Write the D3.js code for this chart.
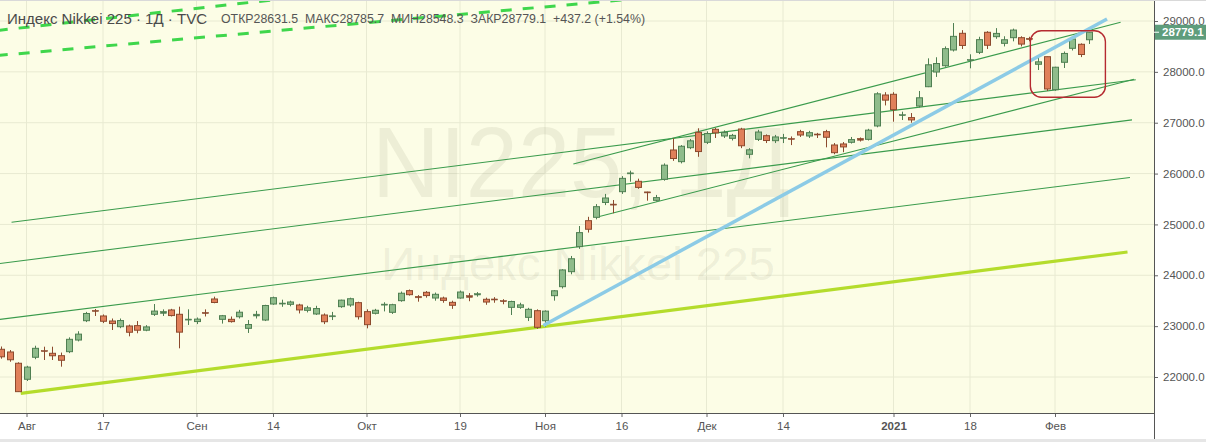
<!DOCTYPE html>
<html><head><meta charset="utf-8">
<script src="https://cdn.jsdelivr.net/npm/d3@7/dist/d3.min.js"></script>
<style>html,body{margin:0;padding:0;background:#fff;overflow:hidden}svg{display:block}</style>
</head><body>
<svg id="c" width="1206" height="442"></svg>
<script>
// ---- DATA (bar index 0 = 3 Aug 2020; first bar = 29 Jul 2020) ----
const firstIndex = -3;
const opens  = [22545,22492,22270, 21955,22388,22520,22466,22419,22498,22727,23107,23310,23200,23101,22989,23003,23010,22920,23233,23252,23318,23233,23130,
 23090,23270,23534,23134,23134,23185,22957,23200,23120,23435,23450,23429,23416,23311,23239,23219,23200,23383,23416,23462,
 23285,23252,23420,23272,23501,23698,23586,23665,23553,23553,23468,23553,23599,23613,23528,23534,23501,23370,23370,23173,23304,
 23107,23599,23776,24071,24563,25074,25140,25432,25400,25644,26010,25848,25640,25474,25887,26464,26234,26509,26811,
 26615,26870,26739,26693,26876,26379,26673,26745,26647,26700,26690,26824,26739,26778,26824,26562,26582,26615,26693,26673,26936,27545,
 27559,27150,27100,27328,27708,27997,28121,28430,28758,28230,28384,28778,28692,28561,28672,28672,28660,28149,28298,
 27650,28188,28463,28542,28631.5];
const highs  = [22600,22530,22290, 22220,22615,22596,22596,22480,22780,22900,23280,23338,23230,23150,23150,23030,23100,23020,23435,23330,23340,23383,23331,
 23170,23330,23580,23220,23190,23320,23120,23300,23420,23580,23520,23500,23440,23400,23400,23250,23280,23520,23560,23480,
 23331,23340,23470,23440,23680,23720,23610,23690,23660,23580,23500,23700,23650,23670,23560,23570,23530,23500,23460,23360,23330,
 23310,23710,24120,24380,24969,25150,25400,25600,25480,25950,26057,25900,25644,25580,26200,26693,26560,26680,26890,
 26830,26900,26850,26780,26900,26500,26860,26770,26760,26780,26730,26860,26840,26800,26860,26600,26620,26720,26710,26880,27600,27600,
 27600,27217,27190,27624,28266,28287,28500,28960,28820,28345,28690,28800,28860,28700,28850,28700,28690,28279,28300,
 28100,28400,28670,28560,28785.7];
const lows   = [22360,22300,21710, 21921,22350,22334,22334,22203,22470,22700,23080,23200,23060,22924,22960,22800,22860,22900,23200,23200,23190,22564,23023,
 23040,23190,23450,23050,23070,23150,22866,23150,23100,23420,23380,23390,23250,23270,23220,23040,23120,23360,23380,23130,
 22957,23230,23290,23240,23480,23600,23481,23560,23500,23460,23340,23540,23490,23580,23420,23460,23430,23219,23340,23100,22948,
 22990,23501,23740,24020,24520,24840,25100,25380,25220,25600,25840,25700,25467,25450,25860,26250,26200,26480,26330,
 26580,26700,26700,26650,26500,26300,26640,26600,26600,26600,26560,26720,26700,26700,26516,26380,26420,26590,26630,26650,26910,27340,
 27020,27053,27000,27300,27700,27900,28100,28400,28450,28070,28350,28450,28650,28500,28600,28500,28600,28036,27624,
 27629,28076,28420,28290,28548.3];
const closes = [22397,22339,21712, 22195,22564,22514,22418,22329,22741,22843,23249,23289,23096,23051,23110,22880,22920,22985,23296,23290,23208,22882,23139,
 23138,23247,23465,23205,23089,23274,23032,23235,23406,23559,23454,23475,23319,23360,23346,23087,23204,23511,23539,23185,
 23029,23312,23433,23422,23647,23619,23558,23601,23626,23507,23410,23671,23567,23639,23474,23516,23494,23485,23418,23331,22977,
 23295,23695,24105,24325,24839,24905,25349,25520,25385,25906,26014,25728,25634,25527,26165,26296,26537,26644,26433,
 26787,26800,26809,26751,26547,26467,26817,26650,26720,26710,26687,26758,26804,26763,26714,26411,26524,26668,26656,26854,27568,27444,
 27258,27158,27055,27490,28139,28164,28456,28698,28519,28242,28633,28523,28756,28631,28822,28546,28635,28197,27663,
 28091,28362,28646,28341,28779.1];

const xTickIdx    = [0, 9, 20, 29, 40, 51, 61, 70, 80, 89, 102, 111, 121];
const xTickLabels = ["Авг","17","Сен","14","Окт","19","Ноя","16","Дек","14","2021","18","Фев"];
const yTicks = [22000,23000,24000,25000,26000,27000,28000,29000];

// drawn trend lines: [[barIndex, price],[barIndex, price]]
const thinLines = [
  [[-1.76,25042],[130.5,27846]],
  [[-3.5,24225],[130.06,27055]],
  [[-3.5,23124],[129.82,25923]],
  [[64.34,26188],[128.72,28974]],
  [[67.05,25140],[130.29,27854]]
];
const supportLine = [[-0.68,21679],[129.53,24458]];
const blueLine    = [[60.8,23013],[127.12,29039]];
const dashedLines = [
  [[-3.5,28320],[80,29560]],
  [[-3.5,28812],[40,29620]]
];
const boxArea = {i0:118.1, i1:126.93, pTop:28809, pBot:27500};
const lastClose = 28779.1;
const headerTitle = "Индекс Nikkei 225 · 1Д · TVC";
const headerValues = "ОТКР28631.5  МАКС28785.7  МИН28548.3  ЗАКР28779.1  +437.2 (+1.54%)";

// ---- LAYOUT ----
const W = 1206, H = 442, plotR = 1154, plotB = 413;
const svg = d3.select("#c");
const x = d3.scaleLinear().domain([0,125]).range([26.5,1089]);
const y = d3.scaleLinear().domain([22000,29000]).range([377,21]);

svg.append("rect").attr("width",W).attr("height",H).attr("fill","#ffffff");
svg.append("rect").attr("x",0).attr("y",0).attr("width",plotR).attr("height",plotB).attr("fill","#fcfde6");
svg.append("defs").append("clipPath").attr("id","clip").append("rect").attr("x",0).attr("y",0).attr("width",plotR).attr("height",plotB);

const plot = svg.append("g").attr("clip-path","url(#clip)");
// grid
plot.selectAll(".hg").data(yTicks).join("line").attr("x1",0).attr("x2",plotR)
  .attr("y1",d=>y(d)).attr("y2",d=>y(d)).attr("stroke","#e8ead2").attr("stroke-width",1);
plot.selectAll(".vg").data(xTickIdx).join("line").attr("y1",0).attr("y2",plotB)
  .attr("x1",d=>x(d)).attr("x2",d=>x(d)).attr("stroke","#e8ead2").attr("stroke-width",1);

// watermark
plot.append("text").attr("x",372).attr("y",197).attr("textLength",418).attr("lengthAdjust","spacingAndGlyphs")
  .attr("font-family","Liberation Sans, Arial, sans-serif").attr("font-size",100)
  .attr("fill","rgba(120,120,95,0.11)").text("NI225, 1Д");
plot.append("text").attr("x",381).attr("y",280).attr("textLength",394).attr("lengthAdjust","spacingAndGlyphs")
  .attr("font-family","Liberation Sans, Arial, sans-serif").attr("font-size",46)
  .attr("fill","rgba(120,120,95,0.11)").text("Индекс Nikkei 225");

const line = d3.line().x(d=>x(d[0])).y(d=>y(d[1]));
// dashed lines
plot.selectAll(".dash").data(dashedLines).join("path").attr("d",line).attr("fill","none")
  .attr("stroke","#3fd64c").attr("stroke-width",3).attr("stroke-dasharray","11,11");
// thin lines
plot.selectAll(".thin").data(thinLines).join("path").attr("d",line).attr("fill","none")
  .attr("stroke","#3a9b4c").attr("stroke-width",1.1);
// support
plot.append("path").datum(supportLine).attr("d",line).attr("fill","none").attr("stroke","#b4dc2c").attr("stroke-width",3.2);

// candles
const bars = opens.map((o,k)=>({i:k+firstIndex,o,h:highs[k],l:lows[k],c:closes[k]}));
const bw = 6;
const cg = plot.append("g");
bars.forEach(b=>{
  const up = b.c >= b.o;
  const stroke = up ? "#4f7f52" : "#8c4a2e";
  const fill = up ? "#8fbc8b" : "#e0805a";
  const cx = Math.round(x(b.i)) + 0.5;
  cg.append("line").attr("x1",cx).attr("x2",cx).attr("y1",y(b.h)).attr("y2",y(b.l)).attr("stroke",stroke).attr("stroke-width",1);
  const top = y(Math.max(b.o,b.c)), bot = y(Math.min(b.o,b.c));
  const hh = Math.max(1, bot-top);
  cg.append("rect").attr("x",cx-bw/2).attr("y",top).attr("width",bw).attr("height",hh)
    .attr("fill",hh<=2?stroke:fill).attr("stroke",stroke).attr("stroke-width",hh<=2?0.6:1);
});

// blue line above candles
plot.append("path").datum(blueLine).attr("d",line).attr("fill","none").attr("stroke","#8ccbe6").attr("stroke-width",3.5);

// red box
plot.append("rect").attr("x",x(boxArea.i0)).attr("y",y(boxArea.pTop))
  .attr("width",x(boxArea.i1)-x(boxArea.i0)).attr("height",y(boxArea.pBot)-y(boxArea.pTop))
  .attr("rx",11).attr("ry",11).attr("fill","none").attr("stroke","#b52a30").attr("stroke-width",1.4);

// header
svg.append("text").attr("x",7).attr("y",24).attr("font-family","Liberation Sans, Arial, sans-serif")
  .attr("font-size",15).attr("fill","#4a4a4a").attr("textLength",200).attr("lengthAdjust","spacingAndGlyphs").text(headerTitle);
svg.append("text").attr("x",221).attr("y",23).attr("font-family","Liberation Sans, Arial, sans-serif")
  .attr("font-size",12.5).attr("fill","#555").attr("textLength",424).attr("lengthAdjust","spacingAndGlyphs")
  .attr("xml:space","preserve").text(headerValues);

// axes
const fnt = "Liberation Sans, Arial, sans-serif";
const xAxis = d3.axisBottom(x).tickValues(xTickIdx).tickFormat((d,k)=>xTickLabels[k]).tickSize(4).tickSizeOuter(0);
const gx = svg.append("g").attr("transform",`translate(0,${plotB})`).call(xAxis);
gx.select(".domain").remove();
gx.selectAll(".tick line").attr("stroke","#666");
gx.selectAll(".tick text").attr("font-family",fnt).attr("font-size",11.5).attr("fill","#555").attr("dy","0.85em")
  .attr("font-weight",(d,k)=>xTickLabels[k]==="2021"?"bold":"normal");
svg.append("line").attr("x1",0).attr("x2",plotR).attr("y1",plotB+0.5).attr("y2",plotB+0.5).attr("stroke","#555");

const yAxis = d3.axisRight(y).tickValues(yTicks).tickFormat(d3.format(".1f")).tickSize(4).tickSizeOuter(0);
const gy = svg.append("g").attr("transform",`translate(${plotR},0)`).call(yAxis);
gy.select(".domain").remove();
gy.selectAll(".tick line").attr("stroke","#666");
gy.selectAll(".tick text").attr("font-family",fnt).attr("font-size",11.5).attr("fill","#555").attr("x",9);
svg.append("line").attr("x1",plotR+0.5).attr("x2",plotR+0.5).attr("y1",0).attr("y2",H).attr("stroke","#555");

// last price label
const ly = y(lastClose);
svg.append("rect").attr("x",plotR+1).attr("y",ly-7.5).attr("width",W-plotR-1).attr("height",15).attr("fill","#5e9d7c");
svg.append("line").attr("x1",plotR).attr("x2",plotR+5).attr("y1",ly).attr("y2",ly).attr("stroke","#fff");
svg.append("text").attr("x",plotR+8).attr("y",ly+4).attr("font-family",fnt).attr("font-size",11.5)
  .attr("font-weight","bold").attr("fill","#fff").text(lastClose.toFixed(1));

// frame
svg.append("line").attr("x1",0).attr("x2",W).attr("y1",0.5).attr("y2",0.5).attr("stroke","#d9d9d9");
svg.append("rect").attr("x",0).attr("y",439).attr("width",W).attr("height",3).attr("fill","#e6e6e6");
</script>
</body></html>
